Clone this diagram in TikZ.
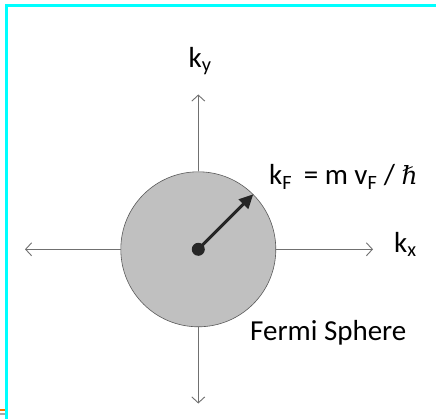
\documentclass[tikz,border=0pt]{standalone}
\usepackage{fontspec}
\setmainfont{Carlito}
\newfontfamily\hbarfont{DejaVu Serif}
\usetikzlibrary{arrows.meta}
\definecolor{axisgray}{HTML}{707070}
\definecolor{spheregray}{HTML}{C0C0C0}
\definecolor{edgegray}{HTML}{5A5A5A}
\definecolor{framecyan}{HTML}{00FFFF}
\definecolor{darkarrow}{HTML}{262626}
\tikzset{
  axis/.style={draw=axisgray, line width=0.9pt, -{Straight Barb[length=6pt,width=13pt,line width=0.9pt]}},
  lbl/.style={inner sep=0pt, font=\fontsize{29}{34}\selectfont, text=black},
}
\begin{document}
\begin{tikzpicture}[x=1pt,y=-1pt]
\useasboundingbox (0,0) rectangle (436,419);
\fill[white] (0,0) rectangle (436,419);
% frame
\draw[framecyan, line width=2.2pt] (6.5,419) -- (6.5,5.5) -- (436,5.5);
\draw[orange!90!red, line width=1.6pt] (0,410) -- (5.4,410);
\draw[gray!70, line width=1.6pt] (0,414) -- (5.4,414);
% center and sphere
\coordinate (c) at (198.3,249.3);
\node[circle, draw=edgegray, fill=spheregray, line width=0.6pt, minimum size=155pt, inner sep=0pt] (sph) at (c) {};
% axes
\coordinate (xl) at (25,249.3);
\coordinate (xr) at (373,249.3);
\coordinate (yt) at (198.3,94.5);
\coordinate (yb) at (198.3,403.5);
\draw[axis] (sph.west) -- (xl);
\draw[axis] (sph.east) -- (xr);
\draw[axis] (sph.north) -- (yt);
\draw[axis] (sph.south) -- (yb);
% radius arrow
\node[circle, fill=darkarrow, minimum size=13pt, inner sep=0pt] (dot) at (c) {};
\draw[darkarrow, line width=3pt, -{Triangle[length=14pt,width=13pt]}] (c) -- (sph.north east);
% labels
\node[lbl, anchor=base] (ky) at (200,68) {k\textsubscript{y}};
\node[lbl, anchor=base west] (kx) at (394,253) {k\textsubscript{x}};
\node[lbl, anchor=base west] (kf) at (269,185) {k\textsubscript{F}\hspace{5pt} = m v\textsubscript{F} / {\hbarfont\itshape\fontsize{25}{30}\selectfont ℏ}};
\node[lbl, anchor=base west] (fs) at (250,340) {Fermi Sphere};
\end{tikzpicture}
\end{document}
